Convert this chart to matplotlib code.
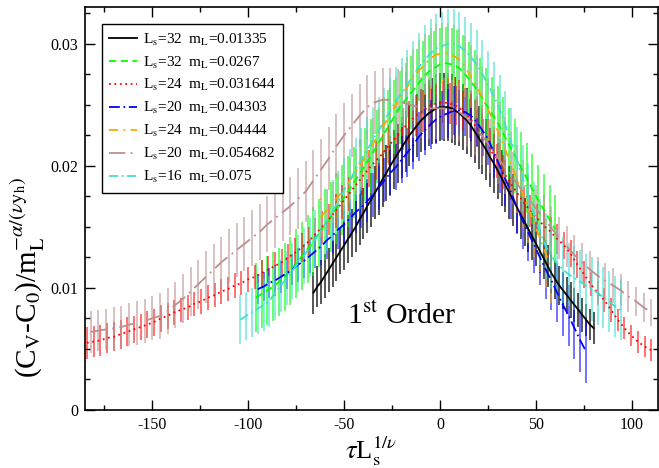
import numpy as np
import matplotlib
matplotlib.use('Agg')
import matplotlib.pyplot as plt
from matplotlib.ticker import MultipleLocator, FuncFormatter

plt.rcParams['font.family'] = ['Liberation Serif', 'DejaVu Serif']
plt.rcParams['mathtext.fontset'] = 'stix'
plt.rcParams['axes.unicode_minus'] = False

# values in units of 1e-4
labels = [r'L$_\mathrm{s}$=32  m$_\mathrm{L}$=0.01335', r'L$_\mathrm{s}$=32  m$_\mathrm{L}$=0.0267',
          r'L$_\mathrm{s}$=24  m$_\mathrm{L}$=0.031644', r'L$_\mathrm{s}$=20  m$_\mathrm{L}$=0.04303',
          r'L$_\mathrm{s}$=24  m$_\mathrm{L}$=0.04444', r'L$_\mathrm{s}$=20  m$_\mathrm{L}$=0.054682',
          r'L$_\mathrm{s}$=16  m$_\mathrm{L}$=0.075']
colors = ['black', '#00ff00', 'red', 'blue', 'orange', '#bc8f8f', '#40e0d0']

x_black = np.arange(-66, 81, 2)
y_black = [96, 101, 105, 110, 115, 120, 125, 130, 135, 140, 145, 150, 156, 161, 167, 172, 178,
           183, 189, 194, 200, 205, 210, 215, 220, 225, 229, 233, 237, 240, 243, 245, 247,
           248, 248, 248, 247, 245, 243, 240, 237, 233, 228, 223, 218, 213, 207, 202, 196,
           190, 184, 178, 172, 166, 160, 154, 148, 142, 136, 130, 124, 118, 112, 107, 102,
           98, 94, 90, 86, 82, 78, 74, 70, 67]
e_black = [17, 17, 18, 18, 18, 19, 19, 19, 20,
           20, 20, 21, 21, 21, 22, 22, 22, 23, 23,
           23, 24, 24, 24, 25, 25, 25, 26, 26, 26, 27, 27, 27, 28,
           28, 28, 28, 28, 28, 27, 27, 27, 26, 26, 26, 25, 25, 24, 24, 23,
           23, 22, 22, 21, 21, 20, 20, 19, 19, 18, 18, 17, 17, 16, 16, 16, 15, 15, 15, 14,
           14, 14, 13, 13, 13]

x_green = np.arange(-96, 61, 3)
y_green = [92, 95, 98, 101, 105, 109, 114, 120, 126, 132, 138, 145, 152, 158, 165, 172, 179,
           186, 193, 201, 208, 216, 224, 232, 240, 248, 254, 260, 266, 272, 277, 280, 283,
           284, 283, 281, 277, 271, 265, 258, 250, 243, 235, 226, 217, 208, 199, 190, 181,
           172, 164, 156, 148]
e_green = [28, 28, 28, 28, 28, 28, 28, 28, 28, 28,
           28, 28, 29, 29, 29, 29, 29, 29, 29, 30,
           30, 30, 30, 30, 30, 30, 30, 30, 30, 30,
           30, 30, 30, 30, 30, 30, 30, 30, 30, 30,
           30, 30, 30, 30, 30, 30, 29, 29, 29, 29,
           29, 28, 28]

x_red = np.arange(-184, 111, 3.5)
y_red = [55, 56, 57, 59, 60, 62, 64, 66, 68, 70, 72, 75, 77, 80, 82, 84, 87, 89, 92, 94,
         97, 99, 102, 104, 107, 109, 112, 115, 118, 121, 125, 129, 133, 138, 144, 150, 156,
         163, 170, 177, 184, 191, 198, 204, 210, 217, 223, 230, 236, 241, 245, 249, 251,
         252, 251, 249, 245, 239, 231, 223, 214, 204, 195, 186, 178, 170, 163, 157, 151,
         146, 140, 135, 128, 119, 111, 103, 96, 90, 82, 74, 67, 61, 56, 52, 49]
e_red = [13, 13, 13, 12, 12, 12, 12, 11, 11, 11,
         11, 11, 11, 10, 10, 10, 10, 10, 10, 10,
         10, 10, 10, 10, 10, 10, 11, 11, 11, 11,
         11, 12, 12, 12, 13, 13, 13, 14, 14, 14,
         15, 15, 15, 16, 16, 16, 17, 17, 17, 17,
         17, 17, 17, 17, 17, 16, 16, 16, 15, 15,
         15, 14, 14, 14, 13, 13, 13, 12, 12, 12,
         12, 11, 11, 11, 11, 10, 10, 10, 10, 9,
         9, 9, 9, 9, 9]

x_blue = np.arange(-95, 77, 3)
y_blue = [99, 101, 104, 106, 109, 112, 115, 119, 122, 126, 130, 134, 139, 143, 148, 152, 157,
          162, 166, 171, 176, 182, 188, 194, 199, 205, 211, 217, 224, 229, 234, 238, 241,
          243, 245, 245, 244, 241, 236, 229, 222, 211, 200, 189, 178, 166, 155, 145, 135,
          125, 115, 106, 96, 86, 77, 67, 57, 48]
e_blue = [12, 12, 12, 13, 13, 13, 13, 14, 14, 14,
          14, 15, 15, 15, 16, 16, 16, 17, 17, 17,
          18, 18, 18, 19, 19, 19, 20, 20, 20, 20,
          20, 20, 20, 20, 20, 20, 20, 21, 21, 21,
          21, 21, 22, 22, 22, 22, 23, 23, 23, 23,
          24, 24, 24, 25, 25, 25, 26, 26]

x_orange = np.arange(-62, 59, 3)
y_orange = [158, 164, 170, 175, 181, 188, 195, 202, 210, 218, 226, 234, 242, 250, 258, 265,
            272, 278, 283, 288, 291, 292, 292, 290, 287, 281, 273, 265, 256, 246, 236, 225,
            213, 201, 189, 177, 165, 153, 141, 128, 116]
e_orange = [16, 17, 17, 18, 18, 19, 19, 20, 20, 21,
            21, 22, 22, 23, 23, 24, 24, 25, 25, 25,
            25, 25, 25, 25, 25, 25, 26, 26, 26, 26,
            27, 27, 27, 27, 28, 28, 28, 28, 28, 28,
            28]

x_brown = np.arange(-182, 111, 4)
y_brown = [64, 65, 66, 67, 68, 70, 71, 73, 75, 77, 81, 86, 91, 97, 103, 109, 115, 121, 126,
           131, 136, 141, 146, 152, 157, 162, 167, 173, 179, 188, 197, 206, 216, 225, 233,
           241, 248, 252, 254, 254, 253, 251, 249, 248, 247, 247, 247, 246, 244, 239, 232,
           224, 216, 207, 198, 190, 181, 173, 165, 157, 149, 141, 134, 127, 121, 115, 110,
           106, 102, 98, 93, 89, 84, 80]
e_brown = [17, 17, 17, 17, 17, 18, 18, 18, 18, 19,
           19, 19, 20, 20, 20, 21, 21, 21, 22, 22,
           22, 23, 23, 23, 24, 24, 24, 25, 25, 25,
           25, 26, 26, 26, 26, 26, 26, 26, 26, 26,
           26, 26, 26, 25, 25, 25, 25, 24, 24, 24,
           23, 23, 22, 22, 21, 21, 20, 20, 19, 19,
           18, 17, 17, 16, 16, 15, 15, 14, 14, 13,
           13, 12, 12, 11]

x_cyan = np.arange(-104, 95, 3)
y_cyan = [74, 77, 80, 83, 86, 89, 96, 102, 108, 114, 120, 126, 133, 140, 147, 155, 163, 171,
          180, 188, 197, 205, 213, 221, 229, 237, 245, 253, 260, 267, 274, 281, 287, 292,
          296, 298, 300, 300, 298, 294, 289, 283, 275, 266, 257, 246, 233, 219, 205, 190,
          175, 160, 146, 134, 126, 120, 115, 111, 108, 105, 102, 99, 96, 92, 89, 85, 82]
e_cyan = [20, 20, 20, 21, 21, 21, 22, 22, 22, 23,
          23, 23, 24, 24, 24, 25, 25, 25, 26, 26,
          26, 26, 27, 27, 27, 27, 28, 28, 28, 28,
          28, 28, 28, 28, 28, 28, 28, 28, 28, 28,
          28, 28, 28, 28, 28, 28, 28, 28, 27, 27,
          27, 27, 27, 27, 27, 27, 27, 26, 26, 26,
          26, 26, 26, 25, 25, 25, 25]

xs = [x_black, x_green, x_red, x_blue, x_orange, x_brown, x_cyan]
ys = [y_black, y_green, y_red, y_blue, y_orange, y_brown, y_cyan]
es = [e_black, e_green, e_red, e_blue, e_orange, e_brown, e_cyan]
dash_styles = [(None, None), (4, 2.5), (1, 2), (6, 2, 1, 2), (5, 3, 1, 3), (9, 3, 1, 3), (5, 2, 1, 2)]
bar_alpha = [0.85, 0.75, 0.7, 0.7, 0.75, 0.7, 0.75]

fig, ax = plt.subplots(figsize=(6.59, 4.68), dpi=100)
fig.subplots_adjust(left=85/659, right=658/659, bottom=58/468, top=461/468)

for x, y, e, c, a in zip(xs, ys, es, colors, bar_alpha):
    ax.errorbar(x, np.array(y)*1e-4, yerr=np.array(e)*1e-4, fmt='none', ecolor=c,
                elinewidth=1.1, alpha=a, capsize=0)

for x, y, c, d, lab in zip(xs, ys, colors, dash_styles, labels):
    line, = ax.plot(x, np.array(y)*1e-4, color=c, lw=1.3, label=lab)
    if d[0] is not None:
        line.set_dashes(d)

ax.text(-48.5, 0.0071, r'1$^{\mathrm{st}}$ Order', fontsize=21.5)

ax.set_xlim(-185, 113.5)
ax.set_ylim(0, 0.033)
ax.xaxis.set_major_locator(MultipleLocator(50))
ax.xaxis.set_minor_locator(MultipleLocator(25))
ax.yaxis.set_major_locator(MultipleLocator(0.01))
ax.yaxis.set_minor_locator(MultipleLocator(0.0025))
ax.yaxis.set_major_formatter(FuncFormatter(lambda v, p: '0' if abs(v) < 1e-9 else '%g' % round(v, 4)))
ax.tick_params(which='both', direction='in', top=True, right=True, width=1.0, labelsize=11.5)
ax.tick_params(which='major', length=7, pad=5)
ax.tick_params(which='minor', length=3.5)
for s in ax.spines.values():
    s.set_linewidth(1.2)

ax.set_xlabel(r'$\tau$L$_\mathrm{s}^{1/\nu}$', fontsize=19, labelpad=1)
ax.set_ylabel(r'(C$_\mathrm{V}$-C$_0$)/m$_\mathrm{L}^{-\alpha/(\nu \mathrm{y_h})}$', fontsize=21)
ax.yaxis.set_label_coords(-0.066, 0.33)

leg = ax.legend(loc='upper left', frameon=True, fancybox=False, edgecolor='black', framealpha=1,
                fontsize=11, handlelength=1.8, handletextpad=0.4, labelspacing=0.45,
                borderaxespad=1.1, borderpad=0.5)
leg.get_frame().set_linewidth(1.0)

fig.savefig('out.png', dpi=100)
